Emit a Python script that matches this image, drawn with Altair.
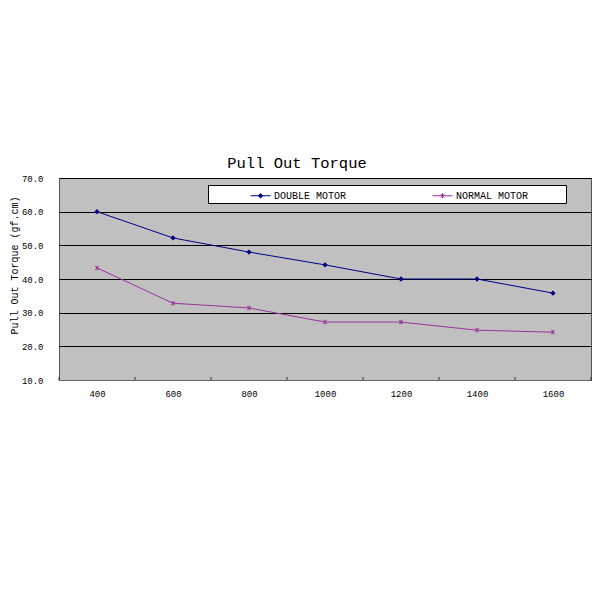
import altair as alt
import pandas as pd

speeds = [400, 600, 800, 1000, 1200, 1400, 1600]
double_motor = [60.0, 52.2, 48.0, 44.2, 40.0, 40.0, 35.8]
normal_motor = [43.3, 32.8, 31.4, 27.2, 27.2, 24.8, 24.2]
series_names = ["DOUBLE MOTOR", "NORMAL MOTOR"]
series_colors = ["#000080", "#993399"]
x_labels = [400, 600, 800, 1000, 1200, 1400, 1600]
minor_ticks = [300, 500, 700, 900, 1100, 1300, 1500, 1700]
y_ticks = [10, 20, 30, 40, 50, 60, 70]

rows = []
for s, v in zip(speeds, double_motor):
    rows.append({"speed": s, "torque": v, "series": series_names[0]})
for s, v in zip(speeds, normal_motor):
    rows.append({"speed": s, "torque": v, "series": series_names[1]})
df = pd.DataFrame(rows)
ticks_df = pd.DataFrame({"speed": minor_ticks, "torque": [10] * len(minor_ticks)})

FONT = "Liberation Mono"

x_enc = alt.X(
    "speed:Q",
    scale=alt.Scale(domain=[300, 1700], nice=False, zero=False),
    axis=alt.Axis(
        values=x_labels, format="d", ticks=False, grid=False, title=None,
        labelFont=FONT, labelFontSize=9, labelColor="#000", labelPadding=9,
        domainColor="#666", domainWidth=1,
    ),
)
y_enc = alt.Y(
    "torque:Q",
    scale=alt.Scale(domain=[10, 70], nice=False, zero=False),
    axis=alt.Axis(
        values=y_ticks, format=".1f", ticks=False, grid=True, gridColor="#000",
        gridWidth=1, domain=False, title="Pull Out Torque (gf.cm)",
        titleFont=FONT, titleFontSize=10, titleFontWeight="normal",
        titleColor="#000", titleX=-45, titleY=87, titleAlign="center",
        titleBaseline="middle", titleAngle=270, labelOverlap=False,
        labelFont=FONT, labelFontSize=9, labelColor="#000", labelPadding=16,
    ),
)

legend_props = dict(
    orient="none", legendX=149, legendY=7, direction="horizontal",
    fillColor="#ffffff", strokeColor="#000000", padding=2, cornerRadius=0,
    symbolSize=256, symbolStrokeWidth=1, symbolOffset=42, labelOffset=5,
    columnPadding=45, labelFont=FONT, labelFontSize=10, labelColor="#000",
    title="\u00a0", titleOrient="right", titlePadding=36, titleFontSize=8,
)
color_enc = alt.Color(
    "series:N", scale=alt.Scale(domain=series_names, range=series_colors),
    legend=alt.Legend(**legend_props),
)

lines = alt.Chart(df).mark_line(strokeWidth=1).encode(
    x=x_enc, y=y_enc, color=color_enc, detail="series:N",
)

pts_double = alt.Chart(df).transform_filter(
    alt.datum.series == series_names[0]
).mark_point(shape="diamond", filled=True, size=28, opacity=1).encode(
    x=x_enc, y=y_enc, color=color_enc,
)

asterisk = "M-1,-1L1,1M-1,1L1,-1M0,-1.2L0,1.2"
pts_normal = alt.Chart(df).transform_filter(
    alt.datum.series == series_names[1]
).mark_point(shape=asterisk, filled=False, size=14, strokeWidth=1, opacity=1).encode(
    x=x_enc, y=y_enc, color=color_enc,
)

minor = alt.Chart(ticks_df).mark_tick(
    orient="vertical", color="#000", size=3, thickness=1, yOffset=-1.5
).encode(x=x_enc, y=y_enc)

legend_paths = [
    "M-1.25,0L1.25,0M0,-0.28L0.28,0L0,0.28L-0.28,0Z",
    "M-1.25,0L1.25,0M-0.22,-0.22L0.22,0.22M-0.22,0.22L0.22,-0.22M0,-0.3L0,0.3",
]
legend_layer = alt.Chart(df).transform_filter("false").mark_point(
    filled=False, opacity=1
).encode(
    x=x_enc, y=y_enc, color=color_enc,
    shape=alt.Shape(
        "series:N",
        scale=alt.Scale(domain=series_names, range=legend_paths),
        legend=alt.Legend(**legend_props),
    ),
)

chart = alt.layer(legend_layer, minor, lines, pts_double, pts_normal).properties(
    width=532, height=202,
    title=alt.Title(
        "Pull Out Torque", font=FONT, fontSize=15.5, fontWeight="normal",
        color="#000", anchor="middle", dx=-28, offset=3,
    ),
    autosize=alt.AutoSizeParams(type="none"),
    padding={"left": 51, "top": 170, "right": 1, "bottom": 150},
).configure(background="#ffffff").configure_view(
    fill="#C0C0C0", stroke="#555555", strokeWidth=1
)

chart.save("out.html", embed_options={"renderer": "svg", "actions": False})
